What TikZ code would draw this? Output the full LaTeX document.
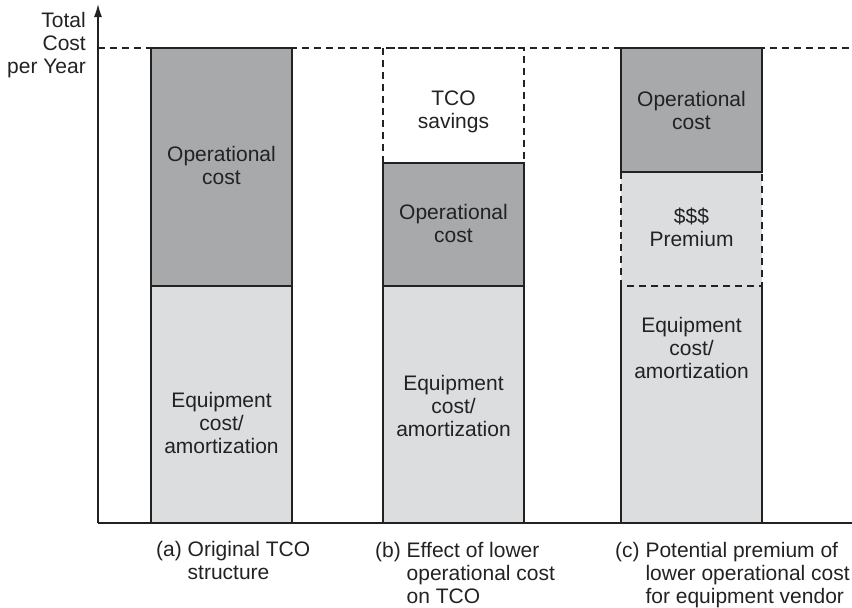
\documentclass[tikz,border=0pt]{standalone}
\usepackage{fontspec}
\setmainfont{Liberation Sans}
\usetikzlibrary{arrows.meta}
\definecolor{opgray}{HTML}{A8A9AB}
\definecolor{eqgray}{HTML}{DCDDDF}
\definecolor{ink}{HTML}{222222}
\begin{document}
\begin{tikzpicture}[x=1pt,y=-1pt,
  lbl/.style={font=\fontsize{21}{23}\selectfont, align=center, text=ink, inner sep=0pt},
  captext/.style={font=\fontsize{21}{23}\selectfont, text=ink, inner sep=0pt, anchor=base west},
  barline/.style={draw=ink, line width=1.1pt},
  dashline/.style={draw=ink, line width=1.1pt, dash pattern=on 7pt off 5pt},
  axisline/.style={draw=ink, line width=1.4pt}]
\useasboundingbox (0,0) rectangle (852,608);

% axes
\coordinate (origin) at (98,523);
\coordinate (ytop) at (98,4);
\coordinate (xend) at (852,523);
\coordinate (tl) at (98,48);
\coordinate (tr) at (852,48);
\draw[dashline] (tl) -- (tr);

% bar (a)
\filldraw[barline, fill=eqgray] (151,286) rectangle (292,523);
\filldraw[barline, fill=opgray] (151,48) rectangle (292,286);

% bar (b)
\draw[dashline] (383,163) -- (383,48) -- (524,48) -- (524,163);
\filldraw[barline, fill=opgray] (383,163) rectangle (524,286);
\filldraw[barline, fill=eqgray] (383,286) rectangle (524,523);

% bar (c)
\fill[eqgray] (621,172) rectangle (762,523);
\draw[dashline] (621,172) -- (621,286) -- (762,286) -- (762,172);
\draw[barline] (621,286) -- (621,523) -- (762,523) -- (762,286);
\filldraw[barline, fill=opgray] (621,48) rectangle (762,172);

\draw[axisline, -{Latex[length=13pt,width=8pt]}] (origin) -- (ytop);
\draw[axisline] (origin) -- (xend);

% labels in bars
\node[lbl] (aop) at (221.5,165.5) {Operational\\cost};
\node[lbl] (aeq) at (221.5,422.5) {Equipment\\cost/\\amortization};
\node[lbl] (bsav) at (453.5,112) {TCO\\savings};
\node[lbl] (bop) at (453.5,223) {Operational\\cost};
\node[lbl] (beq) at (453.5,406) {Equipment\\cost/\\amortization};
\node[lbl] (cop) at (691.5,110.5) {Operational\\cost};
\node[lbl] (cprem) at (691.5,227) {\$\$\$\\Premium};
\node[lbl] (ceq) at (691.5,348) {Equipment\\cost/\\amortization};

% axis label
\node[font=\fontsize{21}{23}\selectfont, text=ink, inner sep=0pt, anchor=base east] (ylab) at (86,27)
  {\begin{tabular}[t]{@{}r@{}}Total\\Cost\\per Year\end{tabular}};

% captions
\node[captext] (capa) at (156,556)
  {\begin{tabular}[t]{@{}l@{ }l@{}}(a)&Original TCO\\&structure\end{tabular}};
\node[captext] (capb) at (375,557)
  {\begin{tabular}[t]{@{}l@{ }l@{}}(b)&Effect of lower\\&operational cost\\&on TCO\end{tabular}};
\node[captext] (capc) at (615,557)
  {\begin{tabular}[t]{@{}l@{ }l@{}}(c)&Potential premium of\\&lower operational cost\\&for equipment vendor\end{tabular}};
\end{tikzpicture}
\end{document}
